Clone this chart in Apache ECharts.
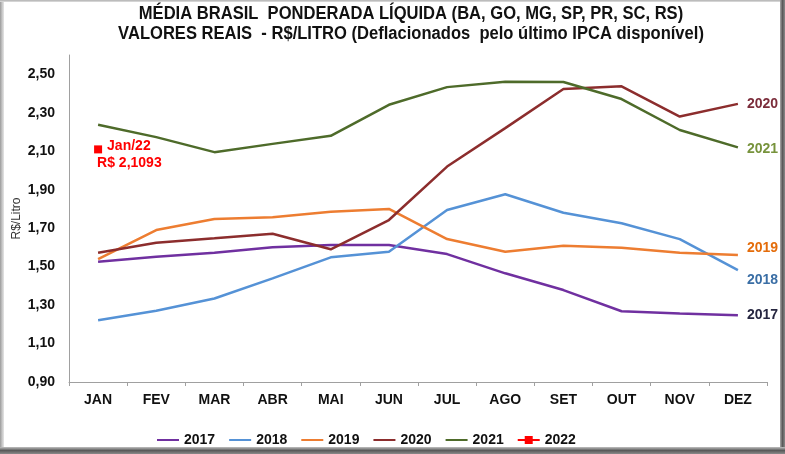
<!DOCTYPE html>
<html>
<head>
<meta charset="utf-8">
<script src="https://cdn.jsdelivr.net/npm/echarts@6/dist/echarts.min.js"></script>
<style>
html,body{margin:0;padding:0;background:#fff;}
#wrap{position:relative;width:785px;height:454px;overflow:hidden;background:#fff;}
#chart{position:absolute;left:0;top:0;width:785px;height:454px;}
.fr{position:absolute;pointer-events:none;}
</style>
</head>
<body>
<div id="wrap">
<div id="chart"></div>
<div class="fr" style="left:0;top:0;width:4px;height:454px;background:linear-gradient(to right,#9a9a9a,#c4c4c4,#e6e6e6);"></div>
<div class="fr" style="left:0;top:0;width:785px;height:2px;background:linear-gradient(to bottom,#b0b0b0,#e0e0e0);"></div>
<div class="fr" style="left:780px;top:0;width:5px;height:454px;background:linear-gradient(to right,#a8a8a8,#5a5a5a,#8a8a8a);"></div>
<div class="fr" style="left:0;top:447px;width:785px;height:7px;background:linear-gradient(to bottom,#c0c0c0,#5a5a5a,#8a8a8a);"></div>
</div>
<script>
var categories = ['JAN','FEV','MAR','ABR','MAI','JUN','JUL','AGO','SET','OUT','NOV','DEZ'];
var v2017 = [1.525,1.551,1.572,1.600,1.612,1.612,1.565,1.465,1.378,1.268,1.256,1.247];
var v2018 = [1.221,1.270,1.334,1.439,1.548,1.577,1.794,1.876,1.780,1.725,1.643,1.482];
var v2019 = [1.539,1.690,1.747,1.756,1.785,1.800,1.643,1.577,1.608,1.598,1.572,1.560];
var v2020 = [1.572,1.624,1.647,1.671,1.590,1.742,2.020,2.220,2.423,2.437,2.280,2.346];
var v2021 = [2.237,2.173,2.095,2.138,2.180,2.341,2.433,2.461,2.460,2.371,2.210,2.120];
var v2022 = [2.1093];
var seriesNames = ['2017','2018','2019','2020','2021','2022'];
var lineColors = ['#7030a0','#5592d6','#ed7d31','#8c2d2d','#4e6b2a','#ff0000'];
var endLabelColors = ['#262640','#3a6ea5','#e46c0a','#7b2c3a','#77933c'];
var endLabelDy = [0,10,-7,0,2];
var titleLines = ['MÉDIA BRASIL  PONDERADA LÍQUIDA (BA, GO, MG, SP, PR, SC, RS)','VALORES REAIS  - R$/LITRO (Deflacionados  pelo último IPCA disponível)'];
var pointLabel = ['Jan/22','R$ 2,1093'];

var chart = echarts.init(document.getElementById('chart'), null, {renderer:'canvas'});
var values = [v2017,v2018,v2019,v2020,v2021];
var series = values.map(function(d,i){
  return {
    name: seriesNames[i], type:'line', data:d, symbol:'none',
    lineStyle:{color:lineColors[i], width:2.5},
    itemStyle:{color:lineColors[i]},
    endLabel:{show:true, formatter:seriesNames[i], color:endLabelColors[i], fontFamily:'Liberation Sans, Arial', fontWeight:'bold', fontSize:14, distance:9, offset:[0,endLabelDy[i]]},
    z: 2 + i
  };
});
series.push({
  name: seriesNames[5], type:'line', data:v2022, symbol:'rect', symbolSize:8,
  lineStyle:{color:lineColors[5], width:2.5}, itemStyle:{color:lineColors[5]},
  label:{show:true, position:[3,-8], formatter:'{a|'+pointLabel[0]+'}\n{b|'+pointLabel[1]+'}', align:'left',
    rich:{a:{color:'#ff0000',fontFamily:'Liberation Sans, Arial',fontWeight:'bold',fontSize:14,lineHeight:17,padding:[0,0,0,10]},
          b:{color:'#ff0000',fontFamily:'Liberation Sans, Arial',fontWeight:'bold',fontSize:14,lineHeight:17}}},
  z: 10
});

var legendData = seriesNames.map(function(n, i){
  return i === 5 ? {name:n, itemStyle:{opacity:1}} : {name:n, itemStyle:{opacity:0}};
});

chart.setOption({
  animation:false,
  backgroundColor:'#fff',
  graphic:[{type:'text', x:411, y:4, scaleX:0.92, scaleY:1, silent:true,
    style:{text:titleLines.join('\n'), align:'center', verticalAlign:'top',
      fontFamily:'Liberation Sans, Arial', fontWeight:'bold', fontSize:18, lineHeight:20, fill:'#111'}}],
  legend:{left:151, top:428, itemWidth:22, itemHeight:10, itemGap:13,
    data:legendData,
    textStyle:{fontFamily:'Liberation Sans, Arial', fontWeight:'bold', fontSize:14, color:'#111'}},
  grid:{left:69, right:18, top:55, bottom:72, containLabel:false},
  xAxis:{type:'category', data:categories, boundaryGap:true,
    axisLine:{lineStyle:{color:'#a0a0a0', width:1}},
    axisTick:{show:true, length:4, lineStyle:{color:'#a0a0a0'}},
    axisLabel:{margin:11, color:'#111', fontFamily:'Liberation Sans, Arial', fontWeight:'bold', fontSize:14}},
  yAxis:{type:'value', min:0.9, max:2.6, interval:0.2,
    name:'R$/Litro', nameLocation:'middle', nameGap:52, nameRotate:90, nameMoveOverlap:false,
    nameTextStyle:{fontFamily:'Liberation Sans, Arial', fontSize:12, color:'#333', verticalAlign:'middle'},
    axisLine:{show:true, lineStyle:{color:'#a0a0a0'}}, axisTick:{show:false}, splitLine:{show:false},
    axisLabel:{showMaxLabel:false, margin:14, color:'#111', fontFamily:'Liberation Sans, Arial', fontWeight:'bold', fontSize:14,
      formatter:function(v){return v.toFixed(2).replace('.',',');}}},
  series:series
});
</script>
</body>
</html>
